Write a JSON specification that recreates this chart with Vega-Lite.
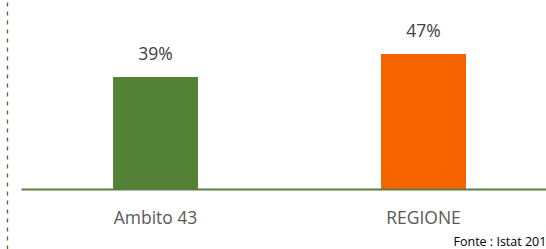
{
  "$schema": "https://vega.github.io/schema/vega-lite/v6.json",
  "autosize": "none",
  "width": 525,
  "height": 249,
  "padding": {"left": 21, "top": 0, "right": 0, "bottom": 0},
  "background": "white",
  "config": {"view": {"stroke": null}, "font": "Open Sans"},
  "data": {"values": [
    {"ambito": "Ambito 43", "valore": 39, "etichetta": "39%"},
    {"ambito": "REGIONE", "valore": 47, "etichetta": "47%"}
  ]},
  "encoding": {
    "x": {
      "field": "ambito", "type": "nominal", "sort": null,
      "scale": {"paddingInner": 0.683, "paddingOuter": 0.321, "align": 0.535},
      "axis": {
        "title": "Fonte : Istat 2018",
        "titleX": 432, "titleY": 56, "titleAlign": "left", "titleBaseline": "alphabetic",
        "titleFontSize": 12.5, "titleFontWeight": "normal", "titleColor": "#000000", "titleFont": "Open Sans",
        "labelAngle": 0, "labelFontSize": 17.5, "labelColor": "#595959", "labelFont": "Open Sans",
        "labelBaseline": "alphabetic", "labelPadding": 34,
        "ticks": false, "tickSize": 0,
        "domainColor": "#5e7d45", "domainWidth": 2,
        "offset": -60, "zindex": 1
      }
    },
    "y": {
      "field": "valore", "type": "quantitative",
      "scale": {"domain": [-20.9, 65.8], "nice": false, "zero": false},
      "axis": {
        "title": null, "labels": false, "ticks": false, "grid": false,
        "domainColor": "#4a6e2c", "domainDash": [4, 5], "domainWidth": 1.3,
        "offset": 14
      }
    }
  },
  "layer": [
    {
      "mark": {"type": "bar"},
      "encoding": {
        "y2": {"datum": 0},
        "color": {
          "field": "ambito", "type": "nominal",
          "scale": {"domain": ["Ambito 43", "REGIONE"], "range": ["#538135", "#f66400"]},
          "legend": null
        }
      }
    },
    {
      "mark": {"type": "text", "baseline": "alphabetic", "dy": -17, "fontSize": 17.5, "color": "#404040", "font": "Open Sans"},
      "encoding": {"text": {"field": "etichetta"}}
    }
  ]
}
